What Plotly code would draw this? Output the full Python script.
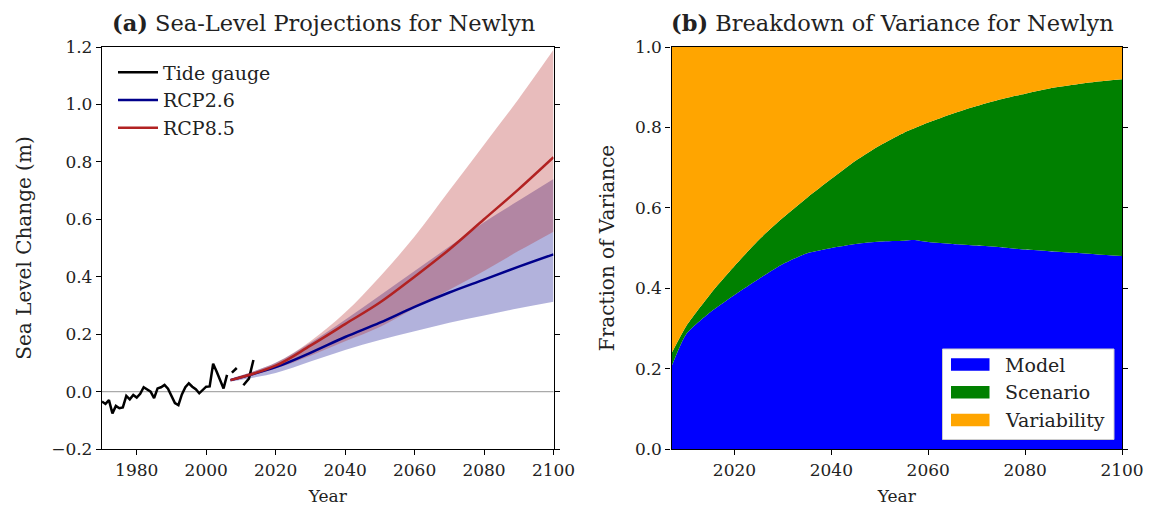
import plotly.graph_objects as go

# ---------------- Panel (a) data ----------------
tg_years = [1970, 1971, 1972, 1973, 1974, 1975, 1976, 1977, 1978, 1979,
            1980, 1981, 1982, 1983, 1984, 1985, 1986, 1987, 1988, 1989,
            1990, 1991, 1992, 1993, 1994, 1995, 1996, 1997, 1998, 1999,
            2000, 2001, 2002, 2003, 2004, 2005, 2006, 2006.7, 2007.4, 2008.8,
            2009.7, 2010.7, 2011.5, 2012.3, 2013.6]
tg_level = [-0.035, -0.043, -0.030, -0.076, -0.050, -0.058, -0.055, -0.015, -0.027, -0.012,
            -0.021, -0.008, 0.015, 0.008, 0.000, -0.023, 0.011, 0.015, 0.023, 0.010,
            -0.018, -0.040, -0.047, -0.010, 0.015, 0.029, 0.017, 0.008, -0.006, 0.005,
            0.017, 0.018, 0.097, 0.070, 0.040, 0.011, 0.058, None, 0.066, 0.082,
            None, 0.022, 0.032, 0.045, 0.110]

proj_years = [2007, 2020, 2030, 2040, 2050, 2060, 2070, 2080, 2090, 2100]
rcp26_mid = [0.040, 0.085, 0.135, 0.190, 0.240, 0.295, 0.345, 0.390, 0.435, 0.478]
rcp26_hi = [0.045, 0.100, 0.170, 0.250, 0.335, 0.420, 0.505, 0.590, 0.665, 0.740]
rcp26_lo = [0.035, 0.065, 0.105, 0.145, 0.180, 0.210, 0.240, 0.265, 0.290, 0.313]
rcp85_mid = [0.040, 0.090, 0.160, 0.235, 0.310, 0.400, 0.495, 0.600, 0.705, 0.816]
rcp85_hi = [0.045, 0.100, 0.175, 0.275, 0.400, 0.540, 0.700, 0.860, 1.020, 1.190]
rcp85_lo = [0.035, 0.080, 0.125, 0.175, 0.225, 0.290, 0.355, 0.420, 0.490, 0.557]

# ---------------- Panel (b) data ----------------
var_years = [2007, 2010, 2015, 2020, 2025, 2030, 2035, 2040, 2045, 2050, 2055,
             2057, 2060, 2065, 2070, 2075, 2080, 2085, 2090, 2095, 2100]
frac_model = [0.205, 0.285, 0.340, 0.383, 0.423, 0.460, 0.487, 0.500, 0.510, 0.516, 0.518,
              0.520, 0.515, 0.510, 0.506, 0.502, 0.496, 0.492, 0.488, 0.484, 0.480]
frac_scenario = [0.033, 0.020, 0.045, 0.072, 0.097, 0.115, 0.138, 0.172, 0.207, 0.239, 0.269,
                 0.277, 0.297, 0.324, 0.347, 0.368, 0.388, 0.405, 0.418, 0.430, 0.440]
frac_variability = [0.762, 0.695, 0.615, 0.545, 0.480, 0.425, 0.375, 0.328, 0.283, 0.245, 0.213,
                    0.203, 0.188, 0.166, 0.147, 0.130, 0.116, 0.103, 0.094, 0.086, 0.080]
var_names = ["Model", "Scenario", "Variability"]
var_colors = ["#0000FF", "#008000", "#FFA500"]

a_yticks = [-0.2, 0.0, 0.2, 0.4, 0.6, 0.8, 1.0, 1.2]
a_xticks = [1980, 2000, 2020, 2040, 2060, 2080, 2100]
b_yticks = [0.0, 0.2, 0.4, 0.6, 0.8, 1.0]
b_xticks = [2020, 2040, 2060, 2080, 2100]

FONT = "DejaVu Serif"
NAVY = "#00008B"
FIRE = "#B22222"
TXT = "#222"

fig = go.Figure()

# RCP2.6 band
fig.add_trace(go.Scatter(x=proj_years, y=rcp26_hi, mode="lines",
                         line=dict(width=0, shape="spline"),
                         showlegend=False, hoverinfo="skip", xaxis="x", yaxis="y"))
fig.add_trace(go.Scatter(x=proj_years, y=rcp26_lo, mode="lines",
                         line=dict(width=0, shape="spline"),
                         fill="tonexty", fillcolor="rgba(0,0,139,0.3)",
                         showlegend=False, hoverinfo="skip", xaxis="x", yaxis="y"))
# RCP8.5 band
fig.add_trace(go.Scatter(x=proj_years, y=rcp85_hi, mode="lines",
                         line=dict(width=0, shape="spline"),
                         showlegend=False, hoverinfo="skip", xaxis="x", yaxis="y"))
fig.add_trace(go.Scatter(x=proj_years, y=rcp85_lo, mode="lines",
                         line=dict(width=0, shape="spline"),
                         fill="tonexty", fillcolor="rgba(178,34,34,0.3)",
                         showlegend=False, hoverinfo="skip", xaxis="x", yaxis="y"))

fig.add_trace(go.Scatter(x=tg_years, y=tg_level, mode="lines", name="Tide gauge",
                         line=dict(color="black", width=2.5), legendgroup="g1",
                         xaxis="x", yaxis="y"))
fig.add_trace(go.Scatter(x=proj_years, y=rcp26_mid, mode="lines", name="RCP2.6",
                         line=dict(color=NAVY, width=2.5, shape="spline"), legendgroup="g2",
                         xaxis="x", yaxis="y"))
fig.add_trace(go.Scatter(x=proj_years, y=rcp85_mid, mode="lines", name="RCP8.5",
                         line=dict(color=FIRE, width=2.5, shape="spline"), legendgroup="g3",
                         xaxis="x", yaxis="y"))

# Panel (b) stacked areas
for name, vals, col in zip(var_names, [frac_model, frac_scenario, frac_variability], var_colors):
    fig.add_trace(go.Scatter(x=var_years, y=vals, mode="lines", name=name,
                             stackgroup="var", line=dict(width=0, color=col, shape="spline",
                                                         smoothing=0.6),
                             fillcolor=col, showlegend=False, xaxis="x2", yaxis="y2"))

W, H = 1149, 507
def px_x(p):
    return p / W
def px_y(p):
    return 1 - p / H

axis_common = dict(showgrid=False, zeroline=False, showline=True, linecolor="black",
                   linewidth=1.3, ticks="outside", ticklen=5, tickwidth=1.2,
                   tickcolor="black", automargin=False,
                   tickfont=dict(family=FONT, size=17, color=TXT))

# manual legend for panel (b): box, swatches and labels
shapes = [dict(type="line", xref="x domain", yref="y", x0=0, x1=1, y0=0, y1=0,
               line=dict(color="#aaaaaa", width=1.2), layer="below"),
          dict(type="rect", xref="paper", yref="paper",
               x0=px_x(942.5), x1=px_x(1114), y0=px_y(349), y1=px_y(439.5),
               fillcolor="white", line=dict(color="#cccccc", width=1), layer="above")]
annotations = [
    dict(text="<b>(a)</b> Sea-Level Projections for Newlyn", xref="paper", yref="paper",
         x=px_x(323), y=px_y(23), xanchor="center", yanchor="middle",
         showarrow=False, font=dict(family=FONT, size=22.5, color=TXT)),
    dict(text="<b>(b)</b> Breakdown of Variance for Newlyn", xref="paper", yref="paper",
         x=px_x(892), y=px_y(23), xanchor="center", yanchor="middle",
         showarrow=False, font=dict(family=FONT, size=22.5, color=TXT)),
]
row_centres = [364.5, 392.3, 420.0]
for name, col, yc in zip(var_names, var_colors, row_centres):
    shapes.append(dict(type="rect", xref="paper", yref="paper",
                       x0=px_x(951), x1=px_x(989.5), y0=px_y(yc + 6.2), y1=px_y(yc - 6.2),
                       fillcolor=col, line=dict(width=0), layer="above"))
    annotations.append(dict(text=name, xref="paper", yref="paper", x=px_x(1003),
                            y=px_y(yc), xanchor="left", yanchor="middle", showarrow=False,
                            font=dict(family=FONT, size=19, color=TXT)))

fig.update_layout(
    width=W, height=H,
    margin=dict(l=0, r=0, t=0, b=0, autoexpand=False),
    paper_bgcolor="white", plot_bgcolor="white",
    font=dict(family=FONT, color=TXT),
    showlegend=True,
    xaxis=dict(domain=[px_x(102), px_x(553.5)], range=[1970, 2100],
               tickvals=a_xticks, mirror=True, anchor="y",
               title=dict(text="Year", font=dict(family=FONT, size=17), standoff=11),
               **axis_common),
    yaxis=dict(domain=[px_y(449), px_y(47)], range=[-0.2, 1.2],
               tickvals=a_yticks, tickformat=".1f", mirror="ticks", anchor="x",
               title=dict(text="Sea Level Change (m)", font=dict(family=FONT, size=20),
                          standoff=14),
               **axis_common),
    xaxis2=dict(domain=[px_x(671.5), px_x(1122)], range=[2007, 2100],
                tickvals=b_xticks, mirror=True, anchor="y2",
                title=dict(text="Year", font=dict(family=FONT, size=17), standoff=11),
                **axis_common),
    yaxis2=dict(domain=[px_y(449), px_y(47)], range=[0, 1],
                tickvals=b_yticks, tickformat=".1f", mirror="ticks", anchor="x2",
                title=dict(text="Fraction of Variance", font=dict(family=FONT, size=20),
                           standoff=14),
                **axis_common),
    legend=dict(x=px_x(113), y=px_y(53.5), xanchor="left", yanchor="top",
                bgcolor="rgba(0,0,0,0)", borderwidth=0, traceorder="normal",
                font=dict(family=FONT, size=19, color=TXT),
                tracegroupgap=2, itemwidth=40),
    shapes=shapes,
    annotations=annotations,
)

fig.write_html("out.html")
